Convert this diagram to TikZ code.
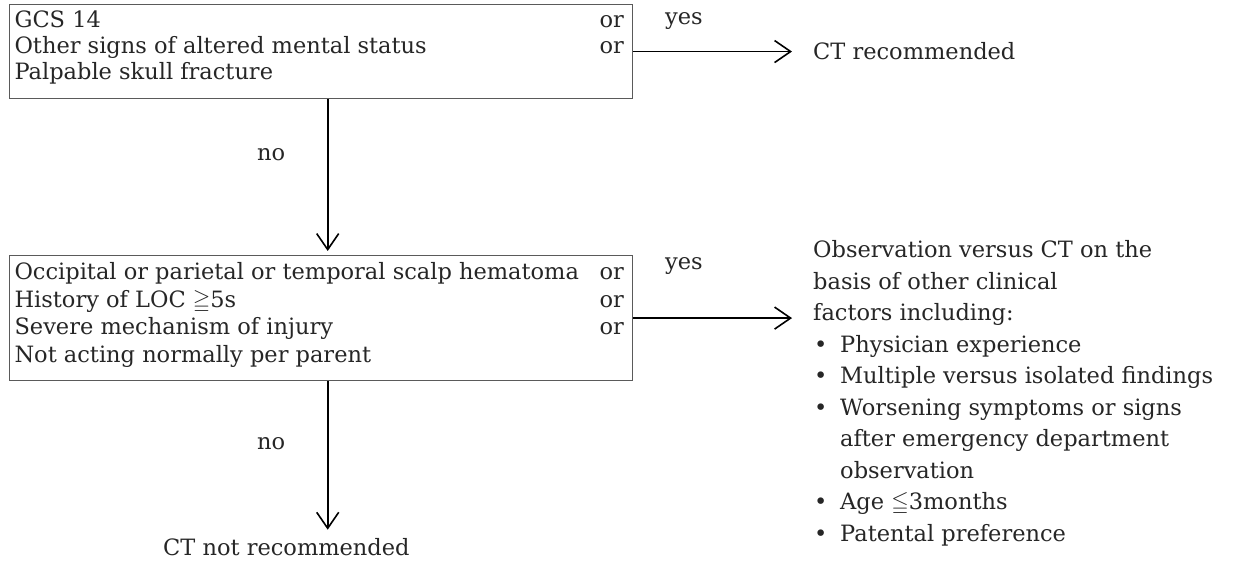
\documentclass[tikz,border=0pt]{standalone}
\usepackage{amssymb}
\usepackage{fontspec}
\setmainfont{DejaVu Serif}
\usepackage{tikz}
\usetikzlibrary{arrows.meta}
\definecolor{ink}{HTML}{262626}
\definecolor{rim}{HTML}{5A5A5A}

\begin{document}
\begin{tikzpicture}[x=1pt, y=-1pt, font=\fontsize{22.5}{26}\selectfont, text=ink]
	\tikzstyle{every node} = [inner sep=0pt]
	\tikzstyle{box} = [draw=rim, line width=1.1pt, anchor=north west]
	\tikzstyle{label} = [anchor=base west]
	\tikzstyle{flow} = [-{Straight Barb[length=16pt, width=22pt]}, line width=1.6pt, black]
	\useasboundingbox (0,0) rectangle (1234,561);
	\node[box] (q1) at (9,4) {\setlength{\tabcolsep}{0pt}%
		\begin{tabular}{@{\hspace{5pt}}p{585pt}r@{\hspace{9pt}}}
		\rule{0pt}{23pt}GCS 14 & or\\
		Other signs of altered mental status & or\\
		Palpable skull fracture\rule[-19pt]{0pt}{19pt} & \\
		\end{tabular}};
	\node[box, font=\fontsize{22.5}{27.7}\selectfont] (q2) at (9,255) {\setlength{\tabcolsep}{0pt}%
		\begin{tabular}{@{\hspace{5pt}}p{585pt}r@{\hspace{9pt}}}
		\rule{0pt}{24pt}Occipital or parietal or temporal scalp hematoma & or\\
		History of LOC $\geqq$5s & or\\
		Severe mechanism of injury & or\\
		Not acting normally per parent\rule[-18pt]{0pt}{18pt} & \\
		\end{tabular}};
	\node[label] (yes1) at (665,25) {yes};
	\node[label] (yes2) at (665,270) {yes};
	\node[label] (no1) at (257,161) {no};
	\node[label] (no2) at (257,449) {no};
	\node[label] (ctrec) at (813,60) {CT recommended};
	\node[label] (ctnot) at (163,555) {CT not recommended};
	\node[label, font=\fontsize{22.5}{31.5}\selectfont] (obs) at (813,258) {\setlength{\tabcolsep}{0pt}%
		\begin{tabular}[t]{@{}l@{}l@{}}
		\multicolumn{2}{@{}l@{}}{Observation versus CT on the}\\
		\multicolumn{2}{@{}l@{}}{basis of other clinical}\\
		\multicolumn{2}{@{}l@{}}{factors including:}\\
		\makebox[27pt][l]{\hspace{1pt}\textbullet} & Physician experience\\
		\makebox[27pt][l]{\hspace{1pt}\textbullet} & Multiple versus isolated findings\\
		\makebox[27pt][l]{\hspace{1pt}\textbullet} & Worsening symptoms or signs\\
		 & after emergency department\\
		 & observation\\
		\makebox[27pt][l]{\hspace{1pt}\textbullet} & Age $\leqq$3months\\
		\makebox[27pt][l]{\hspace{1pt}\textbullet} & Patental preference\\
		\end{tabular}};
	\draw [flow, shorten >=21pt] (q1.east) -- (q1.east -| ctrec.west);
	\draw [flow, shorten >=21pt] (q2.east) -- (q2.east -| obs.west);
	\draw [flow, shorten >=4pt] ([xshift=6.5pt]q1.south) -- ([xshift=6.5pt]q2.north);
	\draw [flow, shorten >=8pt] ([xshift=6.5pt]q2.south) -- ([xshift=6.5pt]q2.south |- ctnot.north);
\end{tikzpicture}
\end{document}
